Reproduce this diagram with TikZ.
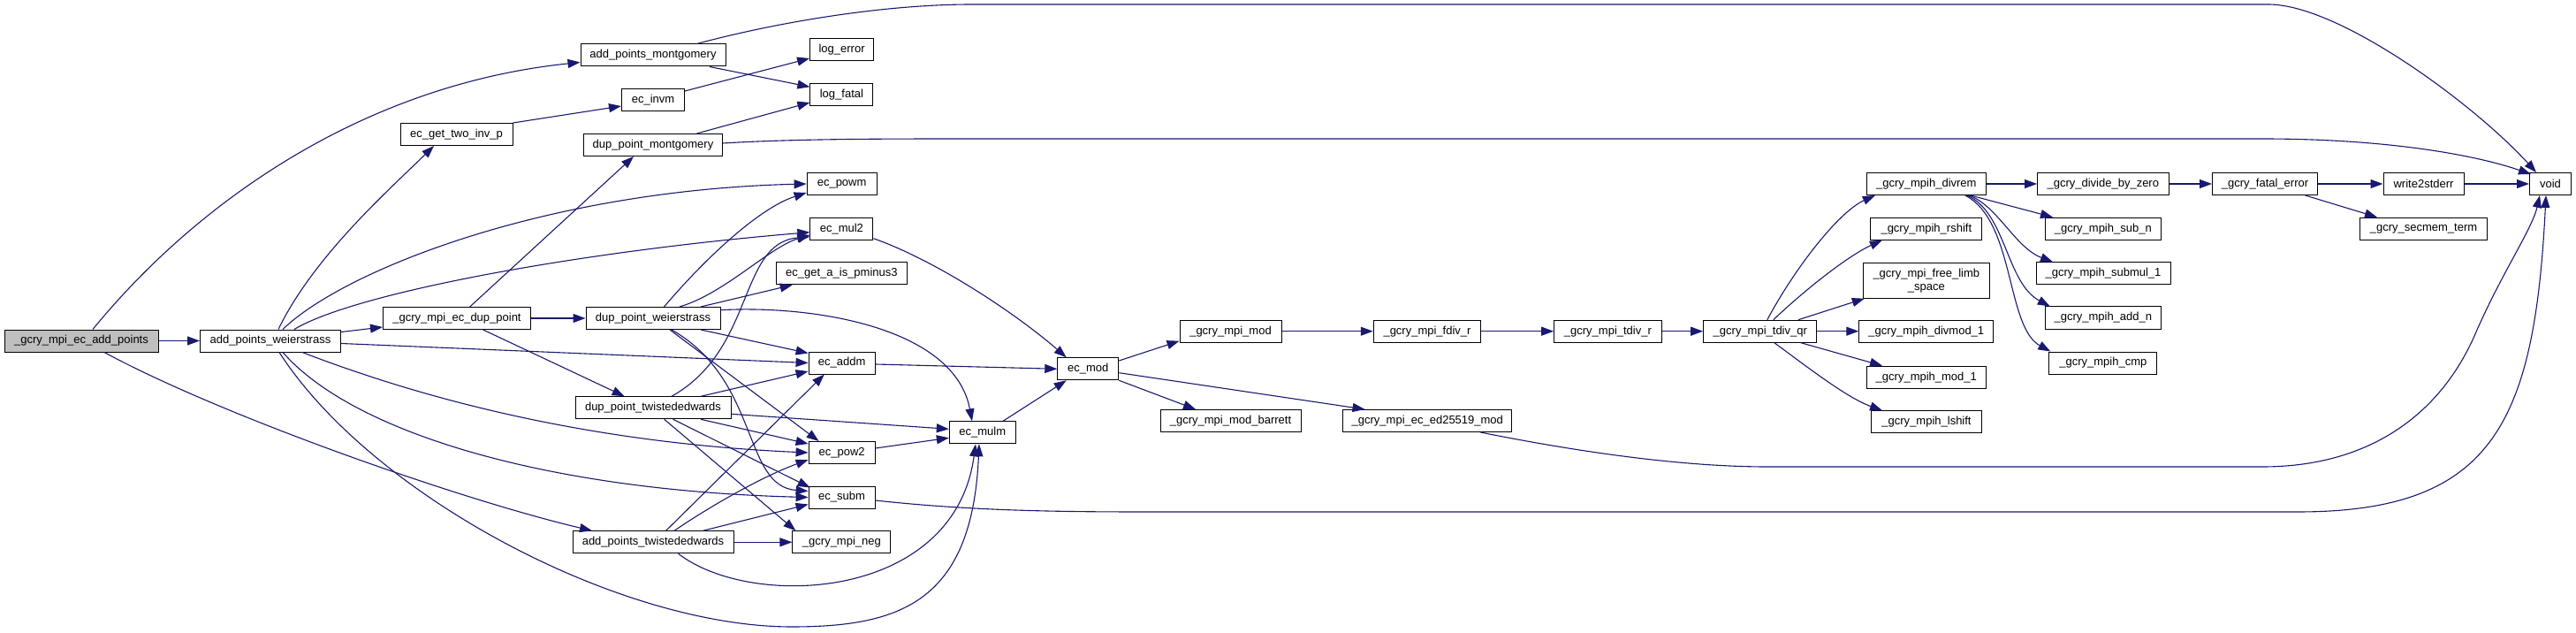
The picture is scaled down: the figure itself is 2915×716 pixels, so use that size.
\documentclass[tikz,border=0pt]{standalone}
\usepackage{fontspec}
\setmainfont{Liberation Sans}
\usetikzlibrary{arrows.meta}
\definecolor{edgec}{RGB}{25,25,112}
\definecolor{rootfill}{RGB}{191,191,191}
\begin{document}
\begin{tikzpicture}[x=0.5pt,y=-0.5pt,
  fn/.style={draw=black, line width=0.5pt, fill=white, minimum height=12.5pt, inner sep=0pt,
    font=\fontsize{6.5}{7.5}\selectfont, align=center},
  e/.style={draw=edgec, line width=0.55pt, -{Triangle[length=7pt,width=5pt]}}]
\useasboundingbox (0,0) rectangle (2915,716);
% nodes
\node[fn, minimum width=87pt, fill=rootfill] (root) at (92,385.5) {\_gcry\_mpi\_ec\_add\_points};
\node[fn, minimum width=79.5pt] (apw) at (306,385.5) {add\_points\_weierstrass};
\node[fn, minimum width=82pt] (apm) at (739,62.5) {add\_points\_montgomery};
\node[fn, minimum width=91pt] (apt) at (739,613.3) {add\_points\_twistededwards};
\node[fn, minimum width=63.5pt] (gtip) at (516.5,152) {ec\_get\_two\_inv\_p};
\node[fn, minimum width=35.5pt] (invm) at (739,113.5) {ec\_invm};
\node[fn, minimum width=78.5pt] (dpm) at (739,164) {dup\_point\_montgomery};
\node[fn, minimum width=83.5pt] (ecdp) at (517,360) {\_gcry\_mpi\_ec\_dup\_point};
\node[fn, minimum width=76pt] (dpw) at (739,360) {dup\_point\_weierstrass};
\node[fn, minimum width=88pt] (dpt) at (739,461.3) {dup\_point\_twistededwards};
\node[fn, minimum width=36pt] (logerr) at (952.6,56) {log\_error};
\node[fn, minimum width=35.5pt] (logfat) at (952.4,106.7) {log\_fatal};
\node[fn, minimum width=39.5pt] (powm) at (952.6,208) {ec\_powm};
\node[fn, minimum width=35.5pt] (mul2) at (952.4,258.7) {ec\_mul2};
\node[fn, minimum width=74pt] (geta) at (952.4,309.3) {ec\_get\_a\_is\_pminus3};
\node[fn, minimum width=37.5pt] (addm) at (952.6,410.5) {ec\_addm};
\node[fn, minimum width=37.5pt] (pow2) at (952.6,512) {ec\_pow2};
\node[fn, minimum width=37.5pt] (subm) at (952.6,562.5) {ec\_subm};
\node[fn, minimum width=55.5pt] (neg) at (952.4,613.3) {\_gcry\_mpi\_neg};
\node[fn, minimum width=37.5pt] (mulm) at (1111.8,489.3) {ec\_mulm};
\node[fn, minimum width=34.5pt] (mod) at (1231.3,417.3) {ec\_mod};
\node[fn, minimum width=57.5pt] (mmod) at (1392.5,374.7) {\_gcry\_mpi\_mod};
\node[fn, minimum width=79.5pt] (barrett) at (1392.5,476) {\_gcry\_mpi\_mod\_barrett};
\node[fn, minimum width=60.75pt] (fdiv) at (1615,374.7) {\_gcry\_mpi\_fdiv\_r};
\node[fn, minimum width=95.5pt] (ed) at (1615.3,476) {\_gcry\_mpi\_ec\_ed25519\_mod};
\node[fn, minimum width=60.75pt] (tdivr) at (1819.4,374.7) {\_gcry\_mpi\_tdiv\_r};
\node[fn, minimum width=64.15pt] (tdivqr) at (1991.8,374.7) {\_gcry\_mpi\_tdiv\_qr};
\node[fn, minimum width=67.5pt] (divrem) at (2179.8,208) {\_gcry\_mpih\_divrem};
\node[fn, minimum width=63pt] (rshift) at (2179.8,258.7) {\_gcry\_mpih\_rshift};
\node[fn, minimum width=71.5pt, minimum height=20pt] (freelimb) at (2179.8,317.2) {\_gcry\_mpi\_free\_limb\\\_space};
\node[fn, minimum width=76pt] (divmod1) at (2179.8,374.7) {\_gcry\_mpih\_divmod\_1};
\node[fn, minimum width=67.5pt] (mod1) at (2179.8,426.7) {\_gcry\_mpih\_mod\_1};
\node[fn, minimum width=62.5pt] (lshift) at (2180,477.3) {\_gcry\_mpih\_lshift};
\node[fn, minimum width=74.25pt] (divzero) at (2379.8,208) {\_gcry\_divide\_by\_zero};
\node[fn, minimum width=65.5pt] (subn) at (2379.8,258.7) {\_gcry\_mpih\_sub\_n};
\node[fn, minimum width=76pt] (submul) at (2380,309.3) {\_gcry\_mpih\_submul\_1};
\node[fn, minimum width=65.5pt] (addn) at (2379.8,359.5) {\_gcry\_mpih\_add\_n};
\node[fn, minimum width=61pt] (cmp) at (2379.8,410.5) {\_gcry\_mpih\_cmp};
\node[fn, minimum width=59.5pt] (fatal) at (2563,208) {\_gcry\_fatal\_error};
\node[fn, minimum width=45.5pt] (w2s) at (2742.5,208) {write2stderr};
\node[fn, minimum width=72pt] (secmem) at (2742.5,258.7) {\_gcry\_secmem\_term};
\node[fn, minimum width=23.5pt] (void) at (2886,208) {void};
% edges from root
\draw[e] (root.east) -- (apw.west);
\draw[e] ([xshift=6.5pt]root.north) .. controls (230,220) and (420,95) .. ([yshift=-4pt]apm.west);
\draw[e] ([xshift=13pt]root.south) .. controls (250,470) and (520,565) .. ([xshift=-34.5pt]apt.north);
% add_points_weierstrass
\draw[e] ([xshift=4.5pt]apw.north) .. controls (355,290) and (440,215) .. ([xshift=-12.75pt]gtip.south);
\draw[e] ([xshift=7pt]apw.north) .. controls (390,305) and (620,215) .. (powm.west);
\draw[e] ([xshift=13.5pt]apw.north) .. controls (400,332) and (650,285) .. ([yshift=-2pt]mul2.west);
\draw[e] ([yshift=5pt]apw.east) -- ([yshift=-5pt]ecdp.west);
\draw[e] ([yshift=-1.5pt]apw.east) -- (addm.west);
\draw[e] ([xshift=18pt]apw.south) .. controls (450,440) and (640,500) .. (pow2.west);
\draw[e] ([xshift=7pt]apw.south) .. controls (400,490) and (620,555) .. (subm.west);
\draw[e] ([xshift=5pt]apw.south) .. controls (420,560) and (700,709) .. (896,709) .. controls (1020,709) and (1100,680) .. ([xshift=-1.9pt]mulm.south);
% montgomery side
\draw[e] (gtip.north east) -- ([yshift=-3.25pt]invm.west);
\draw[e] ([yshift=5.25pt]invm.east) -- ([yshift=-5pt]logerr.west);
\draw[e] ([xshift=-9.25pt]apm.south east) -- ([yshift=4.2pt]logfat.west);
\draw[e] ([xshift=24.75pt]dpm.north) -- ([yshift=-4.65pt]logfat.west);
\draw[e] ([xshift=24.75pt]apm.north) .. controls (880,25) and (1000,5) .. (1100,5) -- (2567,5) .. controls (2647,5) and (2800,118) .. ([xshift=-8pt]void.north);
\draw[e] ([yshift=1pt]dpm.east) .. controls (900,157) and (1000,157) .. (1100,157) -- (2560,157) .. controls (2700,157) and (2800,175) .. ([xshift=1pt,yshift=-1pt]void.north west);
% _gcry_mpi_ec_dup_point
\draw[e] ([xshift=7.35pt]ecdp.north) -- ([xshift=-11pt]dpm.south);
\draw[e] (ecdp.east) -- (dpw.west);
\draw[e] ([xshift=14.85pt]ecdp.south) -- ([xshift=-16.15pt]dpt.north);
% dup_point_weierstrass
\draw[e] ([xshift=6.25pt]dpw.north) .. controls (800,290) and (860,235) .. ([yshift=1.5pt]powm.south west);
\draw[e] ([xshift=15pt]dpw.north) .. controls (820,332) and (870,280) .. ([yshift=-3.5pt]mul2.west);
\draw[e] ([xshift=27pt]dpw.north) -- ([xshift=-27.85pt]geta.south);
\draw[e] ([yshift=4.65pt]dpw.east) .. controls (920,345) and (1080,370) .. ([xshift=-5.9pt]mulm.north);
\draw[e] ([xshift=27pt]dpw.south) -- ([yshift=-1pt]addm.north west);
\draw[e] ([xshift=9.5pt]dpw.south) -- ([xshift=-13pt]pow2.north);
\draw[e] ([xshift=10.5pt]dpw.south) .. controls (860,430) and (840,550) .. ([yshift=3.5pt]subm.west);
% dup_point_twistededwards
\draw[e] ([xshift=10.5pt]dpt.north) .. controls (855,395) and (835,275) .. ([yshift=-4.5pt]mul2.west);
\draw[e] ([xshift=27pt]dpt.north) -- ([yshift=-4.75pt]addm.west);
\draw[e] ([yshift=-3.5pt]dpt.east) -- ([yshift=2pt]mulm.west);
\draw[e] ([xshift=27pt]dpt.south) -- ([yshift=5pt]pow2.west);
\draw[e] ([xshift=11.35pt]dpt.south) -- ([xshift=1pt,yshift=-1pt]subm.north west);
\draw[e] ([xshift=6.35pt]dpt.south) -- ([xshift=2pt]neg.north west);
% add_points_twistededwards
\draw[e] ([xshift=7.3pt]apt.north) -- ([xshift=-9.9pt]addm.south);
\draw[e] ([xshift=12pt]apt.north) .. controls (800,575) and (860,540) .. ([yshift=-4pt]pow2.west);
\draw[e] ([xshift=28.25pt]apt.north) -- ([yshift=-4pt]subm.west);
\draw[e] (apt.east) -- (neg.west);
\draw[e] ([xshift=14.3pt]apt.south) .. controls (850,690) and (1080,680) .. ([xshift=-3.9pt]mulm.south);
% middle
\draw[e] ([yshift=-0.75pt]addm.east) -- (mod.west);
\draw[e] ([yshift=2.5pt]pow2.east) -- ([yshift=-3pt]mulm.west);
\draw[e] ([yshift=1pt]mul2.south east) .. controls (1060,295) and (1150,355) .. ([xshift=-12.3pt]mod.north);
\draw[e] ([xshift=11.6pt]mulm.north) -- ([xshift=-12.3pt]mod.south);
\draw[e] ([yshift=-1.75pt]subm.east) .. controls (1100,578) and (1200,579) .. (1300,579) -- (2600,579) .. controls (2820,579) and (2868,480) .. ([xshift=-2.5pt]void.south);
\draw[e] ([xshift=30pt]ed.south) .. controls (1780,510) and (1900,528) .. (2000,528) -- (2560,528) .. controls (2680,528) and (2760,470) .. (2800,380) .. controls (2830,310) and (2865,260) .. ([xshift=-6pt]void.south);
\draw[e] ([yshift=4.65pt]mod.east) -- ([yshift=1pt]mmod.south west);
\draw[e] (mod.south east) -- ([xshift=-19.75pt]barrett.north);
\draw[e] ([yshift=-2.2pt]mod.east) -- ([xshift=-35.4pt]ed.north);
\draw[e] (mmod.east) -- (fdiv.west);
\draw[e] (fdiv.east) -- (tdivr.west);
\draw[e] (tdivr.east) -- (tdivqr.west);
% tdiv_qr fan
\draw[e] ([xshift=4pt]tdivqr.north) .. controls (2030,305) and (2080,240) .. ([xshift=-29pt]divrem.south);
\draw[e] ([xshift=7.5pt]tdivqr.north) .. controls (2040,330) and (2090,290) .. ([xshift=-25pt]rshift.south);
\draw[e] ([xshift=21.6pt]tdivqr.north) -- ([xshift=1pt]freelimb.south west);
\draw[e] (tdivqr.east) -- (divmod1.west);
\draw[e] ([xshift=23pt]tdivqr.south) -- ([xshift=-24.9pt]mod1.north);
\draw[e] ([xshift=8pt]tdivqr.south) .. controls (2045,415) and (2090,450) .. ([xshift=-25pt]lshift.north);
% divrem fan
\draw[e] (divrem.east) -- (divzero.west);
\draw[e] ([xshift=25pt]divrem.south) -- ([xshift=-28.4pt]subn.north);
\draw[e] ([xshift=24pt]divrem.south) .. controls (2260,232) and (2280,280) .. ([xshift=-28.5pt]submul.north);
\draw[e] ([xshift=23pt]divrem.south) .. controls (2270,240) and (2270,320) .. ([xshift=-30pt]addn.north);
\draw[e] ([xshift=22pt]divrem.south) .. controls (2280,250) and (2270,370) .. ([xshift=1pt]cmp.north west);
\draw[e] (divzero.east) -- (fatal.west);
\draw[e] (fatal.east) -- (w2s.west);
\draw[e] ([xshift=22.8pt]fatal.south) -- ([xshift=-26.25pt]secmem.north);
\draw[e] (w2s.east) -- (void.west);
\end{tikzpicture}
\end{document}
